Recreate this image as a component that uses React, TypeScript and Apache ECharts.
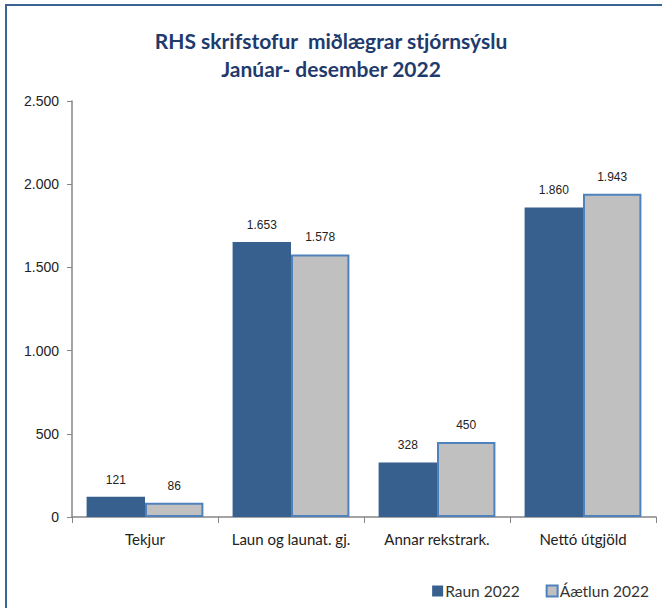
import React, { useEffect, useRef } from "react";
import * as echarts from "echarts";

const titleLines = ["RHS skrifstofur  miðlægrar stjórnsýslu", "Janúar- desember 2022"];
const categories = ["Tekjur", "Laun og launat. gj.", "Annar rekstrark.", "Nettó útgjöld"];
const seriesNames = ["Raun 2022", "Áætlun 2022"];
const raun2022 = [121, 1653, 328, 1860];
const aetlun2022 = [86, 1578, 450, 1943];
const yTicks = [0, 500, 1000, 1500, 2000, 2500];

const fmt = (v: number) => {
  const s = Math.round(v).toString();
  return s.replace(/\B(?=(\d{3})+(?!\d))/g, ".");
};

export default function App() {
  const ref = useRef<HTMLDivElement>(null);
  useEffect(() => {
    if (!ref.current) return;
    const chart = echarts.init(ref.current, undefined, { renderer: "svg" });
    const labelStyle = {
      show: true,
      position: "top" as const,
      distance: 11,
      fontFamily: "Liberation Sans",
      fontSize: 12,
      color: "#222",
      formatter: (p: any) => fmt(p.value),
    };
    chart.setOption({
      animation: false,
      backgroundColor: "#fff",
      title: {
        text: titleLines.join("\n"),
        left: "center",
        top: 21,
        textStyle: {
          fontFamily: "Lato",
          fontWeight: "bold",
          fontSize: 21,
          color: "#1F3B6E",
          lineHeight: 28,
        },
      },
      graphic: [
        {
          type: "rect",
          shape: { x: 6, y: 5, width: 800, height: 800 },
          style: { fill: "none", stroke: "#3B6496", lineWidth: 2 },
          silent: true,
          z: 100,
        },
      ],
      legend: {
        right: 8,
        bottom: 4,
        itemWidth: 11,
        itemHeight: 11,
        itemGap: 26,
        icon: "rect",
        textStyle: { fontFamily: "Lato", fontSize: 15.5, color: "#333", padding: [0, 0, 0, -3] },
        data: seriesNames,
      },
      grid: { left: 72, right: 6, top: 101, bottom: 91, containLabel: false },
      xAxis: {
        type: "category",
        data: categories,
        axisLine: { lineStyle: { color: "#868686", width: 1.5 } },
        axisTick: { show: true, length: 6, alignWithLabel: false, lineStyle: { color: "#868686" } },
        axisLabel: { interval: 0, fontFamily: "Lato", fontSize: 15, color: "#222", margin: 14 },
      },
      yAxis: {
        type: "value",
        min: 0,
        max: 2500,
        interval: 500,
        splitLine: { show: false },
        axisLine: { show: true, lineStyle: { color: "#868686", width: 1.5 } },
        axisTick: { show: true, length: 5, lineStyle: { color: "#868686" } },
        axisLabel: {
          fontFamily: "Liberation Sans",
          fontSize: 14,
          color: "#222",
          margin: 13,
          formatter: (v: number) => (yTicks.includes(v) ? fmt(v) : ""),
        },
      },
      series: [
        {
          name: seriesNames[0],
          type: "bar",
          data: raun2022,
          barGap: "0%",
          barCategoryGap: "20%",
          itemStyle: { color: "#37608F" },
          label: labelStyle,
        },
        {
          name: seriesNames[1],
          type: "bar",
          data: aetlun2022,
          itemStyle: { color: "#C0C0C0", borderColor: "#4F81BD", borderWidth: 2 },
          label: labelStyle,
        },
      ],
    });
    return () => chart.dispose();
  }, []);
  return (
    <div
      ref={ref}
      style={{ position: "fixed", left: 0, top: 0, width: 662, height: 608 }}
    />
  );
}
